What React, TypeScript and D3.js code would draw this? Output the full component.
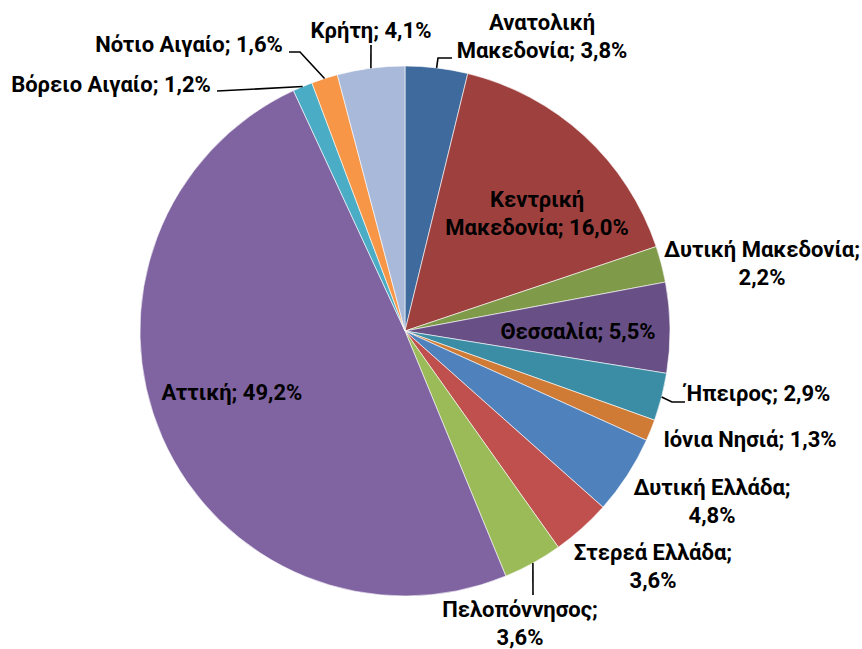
import React from "react";
import * as d3 from "d3";

// ---- data ----
const regions = [
  "Ανατολική Μακεδονία",
  "Κεντρική Μακεδονία",
  "Δυτική Μακεδονία",
  "Θεσσαλία",
  "Ήπειρος",
  "Ιόνια Νησιά",
  "Δυτική Ελλάδα",
  "Στερεά Ελλάδα",
  "Πελοπόννησος",
  "Αττική",
  "Βόρειο Αιγαίο",
  "Νότιο Αιγαίο",
  "Κρήτη",
];
const shares = [3.8, 16.0, 2.2, 5.5, 2.9, 1.3, 4.8, 3.6, 3.6, 49.2, 1.2, 1.6, 4.1];
const sliceColors = [
  "#3F6A9E", "#9E413E", "#7F9A48", "#684F86", "#3A8DA4", "#CF7B36",
  "#4F81BD", "#C0504D", "#9BBB59", "#8064A2", "#4BACC6", "#F79646", "#A9B9D9",
];

// ---- layout (label boxes and leader ends, px) ----
const W = 862;
const H = 649;
const CX = 405;
const CY = 331;
const R = 265;
const FONT = 22;
const LINE = 28;
// label lines, center x, first baseline y
const labelLayout: { lines: string[]; x: number; y: number; leader?: [number, number][] }[] = [
  { lines: ["Ανατολική", "Μακεδονία; 3,8%"], x: 542, y: 30, leader: [[438, 58], [452, 58]] },
  { lines: ["Κεντρική", "Μακεδονία; 16,0%"], x: 537, y: 207 },
  { lines: ["Δυτική Μακεδονία;", "2,2%"], x: 762, y: 257 },
  { lines: ["Θεσσαλία; 5,5%"], x: 578, y: 339 },
  { lines: ["Ήπειρος; 2,9%"], x: 758, y: 401, leader: [[672, 402], [685, 402]] },
  { lines: ["Ιόνια Νησιά; 1,3%"], x: 750, y: 447 },
  { lines: ["Δυτική Ελλάδα;", "4,8%"], x: 712, y: 495 },
  { lines: ["Στερεά Ελλάδα;", "3,6%"], x: 653, y: 560 },
  { lines: ["Πελοπόννησος;", "3,6%"], x: 520, y: 617, leader: [[533, 595]] },
  { lines: ["Αττική; 49,2%"], x: 232, y: 400 },
  { lines: ["Βόρειο Αιγαίο; 1,2%"], x: 111, y: 92, leader: [[217, 91]] },
  { lines: ["Νότιο Αιγαίο; 1,6%"], x: 189, y: 52, leader: [[300, 52], [289, 52]] },
  { lines: ["Κρήτη; 4,1%"], x: 371, y: 38, leader: [[371, 45]] },
];

export default function App() {
  const items = regions.map((name, i) => ({ name, value: shares[i], i }));
  const pie = d3
    .pie<{ name: string; value: number; i: number }>()
    .value((d) => d.value)
    .sort(null)
    .startAngle(0)
    .endAngle(2 * Math.PI);
  const arcs = pie(items);
  const arcGen = d3
    .arc<d3.PieArcDatum<{ name: string; value: number; i: number }>>()
    .innerRadius(0)
    .outerRadius(R);

  return (
    <svg
      width={W}
      height={H}
      style={{ position: "absolute", left: 0, top: 0, background: "#fff" }}
      fontFamily="Roboto, 'Noto Sans', sans-serif"
    >
      <g transform={`translate(${CX},${CY})`}>
        {arcs.map((a) => (
          <path
            key={a.data.name}
            d={arcGen(a) || ""}
            fill={sliceColors[a.data.i]}
            stroke="#ffffff"
            strokeWidth={0.6}
          />
        ))}
      </g>
      {arcs.map((a, i) => {
        const lay = labelLayout[i];
        if (!lay.leader) return null;
        const mid = (a.startAngle + a.endAngle) / 2;
        const sx = CX + R * Math.sin(mid);
        const sy = CY - R * Math.cos(mid);
        const pts: [number, number][] = [[sx, sy], ...lay.leader];
        return (
          <path
            key={"l" + i}
            d={d3.line()(pts) || ""}
            fill="none"
            stroke="#000"
            strokeWidth={1.6}
          />
        );
      })}
      {labelLayout.map((lay, i) => (
        <text
          key={"t" + i}
          x={lay.x}
          y={lay.y}
          textAnchor="middle"
          fontSize={FONT}
          fontWeight={700}
          fill="#000"
        >
          {lay.lines.map((ln, j) => (
            <tspan key={j} x={lay.x} y={lay.y + j * LINE}>
              {ln}
            </tspan>
          ))}
        </text>
      ))}
    </svg>
  );
}
